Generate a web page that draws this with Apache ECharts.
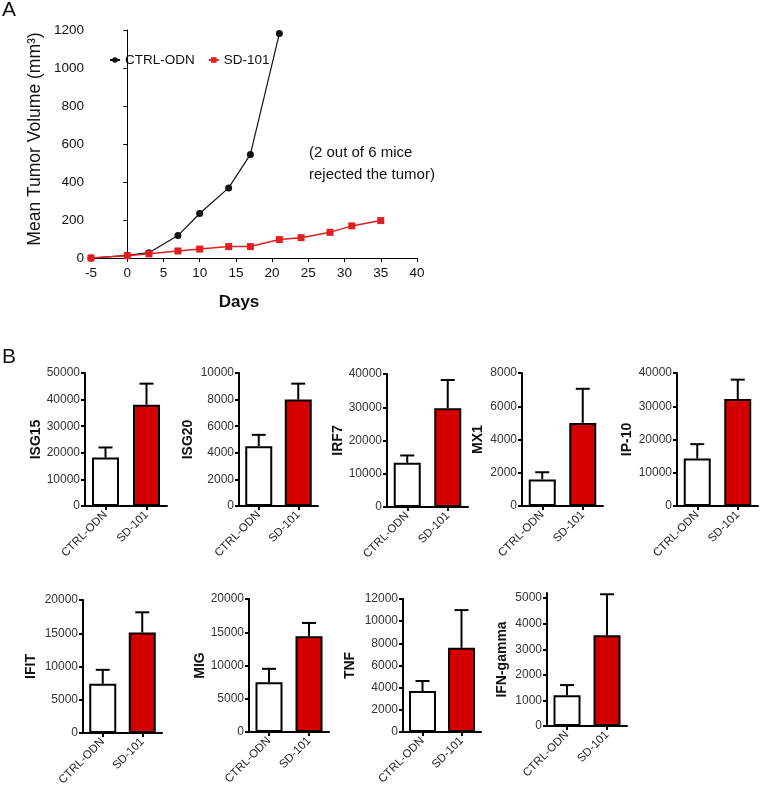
<!DOCTYPE html>
<html>
<head>
<meta charset="utf-8">
<script src="https://cdn.jsdelivr.net/npm/echarts@6/dist/echarts.min.js"></script>
<style>
html,body{margin:0;padding:0;background:#fff;}
#chart{width:762px;height:796px;}
</style>
</head>
<body>
<div id="chart"></div>
<script>
// ---------- Panel A data ----------
const ctrlDays = [-5, 0, 3, 7, 10, 14, 17, 21];
const ctrlVolume = [0, 14, 28, 118, 234, 369, 545, 1181];
const sdDays = [-5, 0, 3, 7, 10, 14, 17, 21, 24, 28, 31, 35];
const sdVolume = [0, 12, 22, 37, 47, 60, 60, 97, 107, 135, 169, 197];

// ---------- Panel B data ----------
const groups = ['CTRL-ODN', 'SD-101'];
const genes = ['ISG15', 'ISG20', 'IRF7', 'MX1', 'IP-10', 'IFIT', 'MIG', 'TNF', 'IFN-gamma'];
const ctrlMean = [18200, 4500, 13300, 1600, 14300, 7400, 7500, 3700, 1200];
const ctrlErr  = [3800, 850, 2200, 430, 4300, 2100, 2000, 900, 400];
const sdMean   = [38100, 8000, 29700, 5000, 32200, 15100, 14400, 7600, 3550];
const sdErr    = [7900, 1200, 8500, 2050, 5800, 3050, 2000, 3400, 1600];
const yMax     = [50000, 10000, 40000, 8000, 40000, 20000, 20000, 12000, 5200];
const yTicks = [
  [0, 10000, 20000, 30000, 40000, 50000],
  [0, 2000, 4000, 6000, 8000, 10000],
  [0, 10000, 20000, 30000, 40000],
  [0, 2000, 4000, 6000, 8000],
  [0, 10000, 20000, 30000, 40000],
  [0, 5000, 10000, 15000, 20000],
  [0, 5000, 10000, 15000, 20000],
  [0, 2000, 4000, 6000, 8000, 10000, 12000],
  [0, 1000, 2000, 3000, 4000, 5000]
];

// ---------- layout (positions only) ----------
const panelLayout = [
  {left: 85,  top: 373, width: 82, height: 133, gap: 40},
  {left: 239, top: 373, width: 79, height: 133, gap: 44},
  {left: 387, top: 374, width: 81, height: 133, gap: 42},
  {left: 522, top: 373, width: 81, height: 133, gap: 37},
  {left: 677, top: 373, width: 81, height: 133, gap: 43},
  {left: 83,  top: 600, width: 79, height: 133, gap: 45},
  {left: 249, top: 599, width: 80, height: 133, gap: 42},
  {left: 403, top: 599, width: 78, height: 133, gap: 46},
  {left: 547, top: 593, width: 80, height: 133, gap: 38}
];

const FONT = 'Liberation Sans, Arial, Helvetica, sans-serif';
const RED = '#d40000';
const LINE_RED = '#e02020';
const plain = v => String(v);

const grids = [{left: 91, top: 30, width: 326, height: 228}];
const xAxes = [{
  gridIndex: 0, type: 'value', min: -5, max: 40, interval: 5,
  axisLine: {show: true, lineStyle: {color: '#000', width: 1}},
  axisTick: {show: true, length: 4, lineStyle: {color: '#000'}},
  axisLabel: {color: '#111', fontSize: 13.5, fontFamily: FONT, margin: 8, formatter: plain},
  splitLine: {show: false}
}];
const yAxes = [{
  gridIndex: 0, type: 'value', min: 0, max: 1200, interval: 200,
  axisLine: {show: true, lineStyle: {color: '#000', width: 1}},
  axisTick: {show: true, length: 4, lineStyle: {color: '#000'}},
  axisLabel: {color: '#111', fontSize: 13.5, fontFamily: FONT, margin: 7, formatter: plain},
  splitLine: {show: false}
}];
const series = [
  {
    name: 'CTRL-ODN', type: 'line', xAxisIndex: 0, yAxisIndex: 0,
    data: ctrlDays.map((d, i) => [d, ctrlVolume[i]]),
    symbol: 'circle', symbolSize: 7,
    lineStyle: {color: '#111', width: 1.2},
    itemStyle: {color: '#111'}, z: 3
  },
  {
    name: 'SD-101', type: 'line', xAxisIndex: 0, yAxisIndex: 0,
    data: sdDays.map((d, i) => [d, sdVolume[i]]),
    symbol: 'rect', symbolSize: 7,
    lineStyle: {color: LINE_RED, width: 1.5},
    itemStyle: {color: LINE_RED}, z: 4
  }
];

genes.forEach((g, i) => {
  const L = panelLayout[i];
  const gi = i + 1;
  grids.push({left: L.left, top: L.top, width: L.width, height: L.height});
  xAxes.push({
    gridIndex: gi, type: 'category', data: groups,
    axisLine: {show: true, lineStyle: {color: '#000', width: 2}},
    axisTick: {show: true, alignWithLabel: true, length: 4, lineStyle: {color: '#000', width: 2}},
    axisLabel: {rotate: 45, color: '#222', fontSize: 11.5, fontFamily: FONT, margin: 7, interval: 0}
  });
  yAxes.push({
    gridIndex: gi, type: 'value', min: 0, max: yMax[i],
    name: g, nameLocation: 'middle', nameGap: L.gap,
    nameTextStyle: {fontSize: 14, fontWeight: 'bold', color: '#111', fontFamily: FONT},
    axisLine: {show: true, lineStyle: {color: '#000', width: 2}},
    axisTick: {show: true, length: 4, lineStyle: {color: '#000', width: 2}, customValues: yTicks[i]},
    axisLabel: {color: '#333', fontSize: 12, fontFamily: FONT, margin: 5, customValues: yTicks[i], formatter: plain},
    splitLine: {show: false}
  });
  series.push({
    type: 'bar', xAxisIndex: gi, yAxisIndex: gi, barWidth: 27,
    data: [
      {value: ctrlMean[i], itemStyle: {color: '#fff'}},
      {value: sdMean[i], itemStyle: {color: RED}}
    ],
    itemStyle: {borderColor: '#000', borderWidth: 2},
    silent: true, z: 2
  });
  series.push({
    type: 'custom', xAxisIndex: gi, yAxisIndex: gi, z: 3, silent: true,
    data: [[0, ctrlMean[i], ctrlErr[i]], [1, sdMean[i], sdErr[i]]],
    renderItem: function (params, api) {
      const x = api.value(0), m = api.value(1), e = api.value(2);
      const p0 = api.coord([x, m]);
      const p1 = api.coord([x, m + e]);
      const hw = 7;
      return {
        type: 'group',
        children: [
          {type: 'line', shape: {x1: p0[0], y1: p0[1], x2: p1[0], y2: p1[1]}, style: {stroke: '#000', lineWidth: 2}},
          {type: 'line', shape: {x1: p1[0] - hw, y1: p1[1], x2: p1[0] + hw, y2: p1[1]}, style: {stroke: '#000', lineWidth: 2}}
        ]
      };
    }
  });
});

const chart = echarts.init(document.getElementById('chart'), null, {renderer: 'canvas'});
chart.setOption({
  animation: false,
  backgroundColor: '#fff',
  textStyle: {fontFamily: FONT},
  grid: grids,
  xAxis: xAxes,
  yAxis: yAxes,
  legend: {
    data: ['CTRL-ODN', 'SD-101'],
    left: 104, top: 48, itemWidth: 10, itemHeight: 7, itemGap: 13,
    textStyle: {fontSize: 13.5, color: '#111', fontFamily: FONT}
  },
  graphic: [
    {type: 'text', left: 2, top: 0, style: {text: 'A', fontSize: 21, fill: '#111', fontFamily: FONT}},
    {type: 'text', left: 2, top: 347, style: {text: 'B', fontSize: 21, fill: '#111', fontFamily: FONT}},
    {type: 'text', x: 239, y: 302, style: {text: 'Days', fontSize: 17, fontWeight: 'bold', fill: '#111', fontFamily: FONT, textAlign: 'center', textVerticalAlign: 'middle'}},
    {type: 'text', x: 35, y: 139, rotation: Math.PI / 2, style: {text: 'Mean Tumor Volume (mm³)', fontSize: 17.5, fill: '#111', fontFamily: FONT, textAlign: 'center', textVerticalAlign: 'middle'}},
    {type: 'text', left: 309, top: 142, style: {text: '(2 out of 6 mice\nrejected the tumor)', fontSize: 15, lineHeight: 22, fill: '#111', fontFamily: FONT}}
  ],
  series: series
});
</script>
</body>
</html>
